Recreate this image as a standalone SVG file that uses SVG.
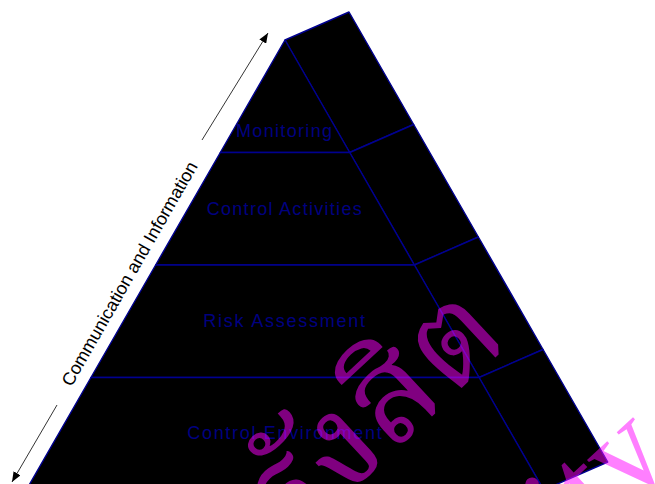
<svg xmlns="http://www.w3.org/2000/svg" width="655" height="484" viewBox="0 0 655 484">
<style>
.face{fill:#000;stroke:#000090;stroke-width:1.4;stroke-linejoin:round}
.lbl{font-family:'Liberation Sans',Arial,sans-serif;font-size:18px;fill:#000080;text-anchor:middle}
.axis{font-family:'Liberation Sans',Arial,sans-serif;font-size:18px;fill:#000;text-anchor:middle}
.arr{stroke:#000;stroke-width:0.8;fill:none}
.wm{fill:#FF00FF;fill-opacity:0.5}
.th{font-family:'Liberation Serif','Noto Serif Thai','Noto Sans Thai',serif;font-size:132px}
.en{font-family:'Liberation Serif',serif;font-size:130px}
</style>
<defs>
<marker id="ah" viewBox="0 0 10 8" refX="10" refY="4" markerWidth="10" markerHeight="8" markerUnits="userSpaceOnUse" orient="auto"><path d="M0,0 L10,4 L0,8 z" fill="#000"/></marker>
</defs>
<rect width="655" height="484" fill="#fff"/>
<g id="monitoring">
<polygon class="face" points="285,40 349,12 413.69,124.5 349.69,152.5"/>
<polygon class="face" points="285,40 220.31,152.5 349.69,152.5"/>
<text class="lbl" x="284" y="136.7" textLength="96" lengthAdjust="spacing">Monitoring</text>
</g>
<g id="control-activities">
<polygon class="face" points="349.69,152.5 413.69,124.5 478.38,237 414.38,265"/>
<polygon class="face" points="220.31,152.5 349.69,152.5 414.38,265 155.63,265"/>
<text class="lbl" x="284.2" y="215" textLength="155" lengthAdjust="spacing">Control Activities</text>
</g>
<g id="risk-assessment">
<polygon class="face" points="414.38,265 478.38,237 543.06,349.5 479.06,377.5"/>
<polygon class="face" points="155.63,265 414.38,265 479.06,377.5 90.94,377.5"/>
<text class="lbl" x="284.2" y="326.7" textLength="161.7" lengthAdjust="spacing">Risk Assessment</text>
</g>
<g id="control-environment">
<polygon class="face" points="479.06,377.5 543.06,349.5 607.75,462 543.75,490"/>
<polygon class="face" points="90.94,377.5 479.06,377.5 543.75,490 26.25,490"/>
<text class="lbl" x="284.5" y="439.3" textLength="194.4" lengthAdjust="spacing">Control Environment</text>
</g>
<g id="connectors">
<line class="arr" x1="202" y1="140" x2="268" y2="33" marker-end="url(#ah)"/>
<line class="arr" x1="57" y1="405" x2="12" y2="482" marker-end="url(#ah)"/>
</g>
<g id="communication-information">
<text class="axis" transform="translate(134.8,276.7) rotate(-60.2)">Communication and Information</text>
</g>
<g id="watermark" class="wm" transform="translate(512,341) rotate(-43)">
<text class="th" x="0" y="0" text-anchor="end">มหาวิทยาลัยรังสิต</text>
<text class="en" x="37" y="197.8" text-anchor="end">Rangsit University</text>
</g>
</svg>
